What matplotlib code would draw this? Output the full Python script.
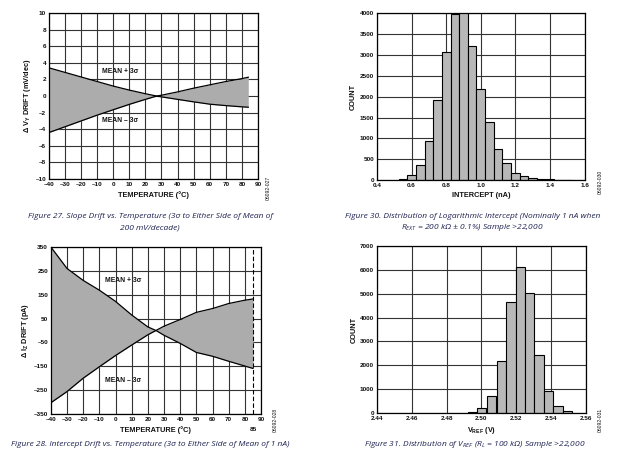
import matplotlib
matplotlib.use("Agg")
import matplotlib.pyplot as plt
import numpy as np

# Figure 27 - slope drift band
temp_27 = [-40, -30, -20, -10, 0, 10, 20, 27, 30, 40, 50, 60, 70, 80, 84]
upper_27 = [3.4, 2.85, 2.3, 1.75, 1.2, 0.72, 0.28, 0.0, -0.1, -0.4, -0.7, -0.98, -1.15, -1.3, -1.35]
lower_27 = [-4.4, -3.7, -3.0, -2.3, -1.65, -1.0, -0.4, 0.0, 0.1, 0.5, 0.95, 1.35, 1.75, 2.1, 2.27]

# Figure 28 - intercept drift band
temp_28 = [-40, -30, -25, -20, -10, 0, 10, 20, 25, 30, 40, 50, 60, 70, 80, 85]
upper_28 = [350, 260, 235, 210, 169, 122, 65, 15, 0, -20, -54, -92, -108, -129, -149, -159]
lower_28 = [-303, -256, -228, -200, -152, -105, -61, -18, 0, 18, 46, 76, 92, 113, 127, 132]

# Figure 30 - intercept histogram
bins_30 = [0.55, 0.60, 0.65, 0.70, 0.75, 0.80, 0.85, 0.90, 0.95, 1.00,
           1.05, 1.10, 1.15, 1.20, 1.25, 1.30, 1.35, 1.40, 1.45, 1.50]
counts_30 = [20, 120, 370, 950, 1920, 3070, 3990, 4050, 3220, 2190,
             1400, 740, 400, 180, 100, 45, 20, 20, 10, 5]

# Figure 31 - VREF histogram
bins_31 = [2.4947, 2.5002, 2.5059, 2.5115, 2.5169, 2.5224, 2.5277, 2.5331, 2.5386, 2.5440, 2.5493]
counts_31 = [30, 200, 720, 2170, 4650, 6120, 5020, 2420, 920, 300, 80]

TXT = "#111111"
CAP = "#1d2150"
FILL = "#acacac"
BAR = "#b8b8b8"
plt.rcParams["font.family"] = ["Liberation Sans", "DejaVu Sans"]

fig = plt.figure(figsize=(6.2, 4.62), dpi=100)


def style(ax, xt, yt, xl, yl, xlim, ylim, xfmt, yfmt):
    ax.set_xlim(*xlim)
    ax.set_ylim(*ylim)
    ax.set_xticks(xt)
    ax.set_yticks(yt)
    ax.set_xticklabels([xfmt(v) for v in xt], fontweight="bold")
    ax.set_yticklabels([yfmt(v) for v in yt], fontweight="bold")
    ax.tick_params(length=0, labelsize=4.6, colors=TXT, pad=2)
    for s in ax.spines.values():
        s.set_linewidth(0.9)
        s.set_color("black")
    ax.set_xlabel(xl, fontsize=5.3, color=TXT, labelpad=3, fontweight="bold")
    ax.set_ylabel(yl, fontsize=5.3, color=TXT, labelpad=2, fontweight="bold")
    ax.grid(True, color="#333333", lw=0.8)
    ax.set_axisbelow(True)


def neg(v):
    return f"{v:g}".replace("-", "\u2013")


lab = dict(fontsize=4.9, ha="center", va="center", color=TXT, fontweight="bold")

# ---- top left
ax1 = fig.add_axes([0.079, 0.6126, 0.337, 0.359])
ax1.fill_between(temp_27, upper_27, lower_27, color=FILL, lw=0, zorder=2)
ax1.plot(temp_27, upper_27, color="black", lw=0.9, zorder=3)
ax1.plot(temp_27, lower_27, color="black", lw=0.9, zorder=3)
style(ax1, np.arange(-40, 91, 10), np.arange(-10, 11, 2), "TEMPERATURE (°C)",
      "Δ V$_\\mathregular{Y}$ DRIFT (mV/dec)", (-40, 90), (-10, 10), neg, neg)
ax1.text(4, 3.0, "MEAN + 3σ", **lab)
ax1.text(4, -3.0, "MEAN \u2013 3σ", **lab)

# ---- top right
ax2 = fig.add_axes([0.608, 0.610, 0.335, 0.3615])
ax2.bar(bins_30, counts_30, width=0.05, color=BAR, edgecolor="black", lw=0.8, zorder=2)
style(ax2, np.round(np.arange(0.4, 1.61, 0.2), 1), np.arange(0, 4001, 500), "INTERCEPT (nA)",
      "COUNT", (0.4, 1.6), (0, 4000), lambda v: f"{v:.1f}", lambda v: f"{v:g}")

# ---- bottom left
ax3 = fig.add_axes([0.082, 0.1039, 0.339, 0.3615])
ax3.fill_between(temp_28, upper_28, lower_28, color=FILL, lw=0, zorder=2)
ax3.plot(temp_28, upper_28, color="black", lw=0.9, zorder=3)
ax3.plot(temp_28, lower_28, color="black", lw=0.9, zorder=3)
style(ax3, np.arange(-40, 91, 10), np.arange(-350, 351, 100), "TEMPERATURE (°C)",
      "Δ I$_\\mathregular{Z}$ DRIFT (pA)", (-40, 90), (-350, 350), neg, neg)
ax3.axvline(85, color="black", lw=0.8, ls=(0, (4, 2)), zorder=4)
ax3.text(85, -405, "85", fontsize=4.6, ha="center", va="top", color=TXT, fontweight="bold")
ax3.text(4.5, 208, "MEAN + 3σ", **lab)
ax3.text(4.5, -208, "MEAN \u2013 3σ", **lab)

# ---- bottom right
ax4 = fig.add_axes([0.608, 0.106, 0.337, 0.3615])
ax4.bar(bins_31, counts_31, width=0.0054, color=BAR, edgecolor="black", lw=0.8, zorder=2)
style(ax4, np.round(np.arange(2.44, 2.561, 0.02), 2), np.arange(0, 7001, 1000), "V$_\\mathregular{REF}$ (V)",
      "COUNT", (2.44, 2.56), (0, 7000), lambda v: f"{v:.2f}", lambda v: f"{v:g}")

# captions
cap = dict(fontsize=6.0, style="italic", color=CAP, ha="center", va="center",
           family=["Open Sans", "DejaVu Sans"])
fig.text(0.242, 1 - 217 / 462, "Figure 27. Slope Drift vs. Temperature (3σ to Either Side of Mean of", **cap)
fig.text(0.242, 1 - 228 / 462, "200 mV/decade)", **cap)
fig.text(0.762, 1 - 217 / 462, "Figure 30. Distribution of Logarithmic Intercept (Nominally 1 nA when", **cap)
fig.text(0.762, 1 - 228 / 462, "R$_\\mathregular{EXT}$ = 200 kΩ ± 0.1%) Sample >22,000", **cap)
fig.text(0.242, 1 - 444 / 462, "Figure 28. Intercept Drift vs. Temperature (3σ to Either Side of Mean of 1 nA)", **cap)
fig.text(0.766, 1 - 444 / 462, "Figure 31. Distribution of V$_\\mathregular{REF}$ (R$_\\mathregular{L}$ = 100 kΩ) Sample >22,000", **cap)

# document codes
code = dict(fontsize=3.6, rotation=90, ha="center", va="center", color=TXT)
fig.text(268 / 620, 1 - 188 / 462, "06092-027", **code)
fig.text(600 / 620, 1 - 182 / 462, "06092-030", **code)
fig.text(275 / 620, 1 - 420 / 462, "06092-028", **code)
fig.text(600 / 620, 1 - 420 / 462, "06092-031", **code)

fig.savefig("out.png", dpi=100)
